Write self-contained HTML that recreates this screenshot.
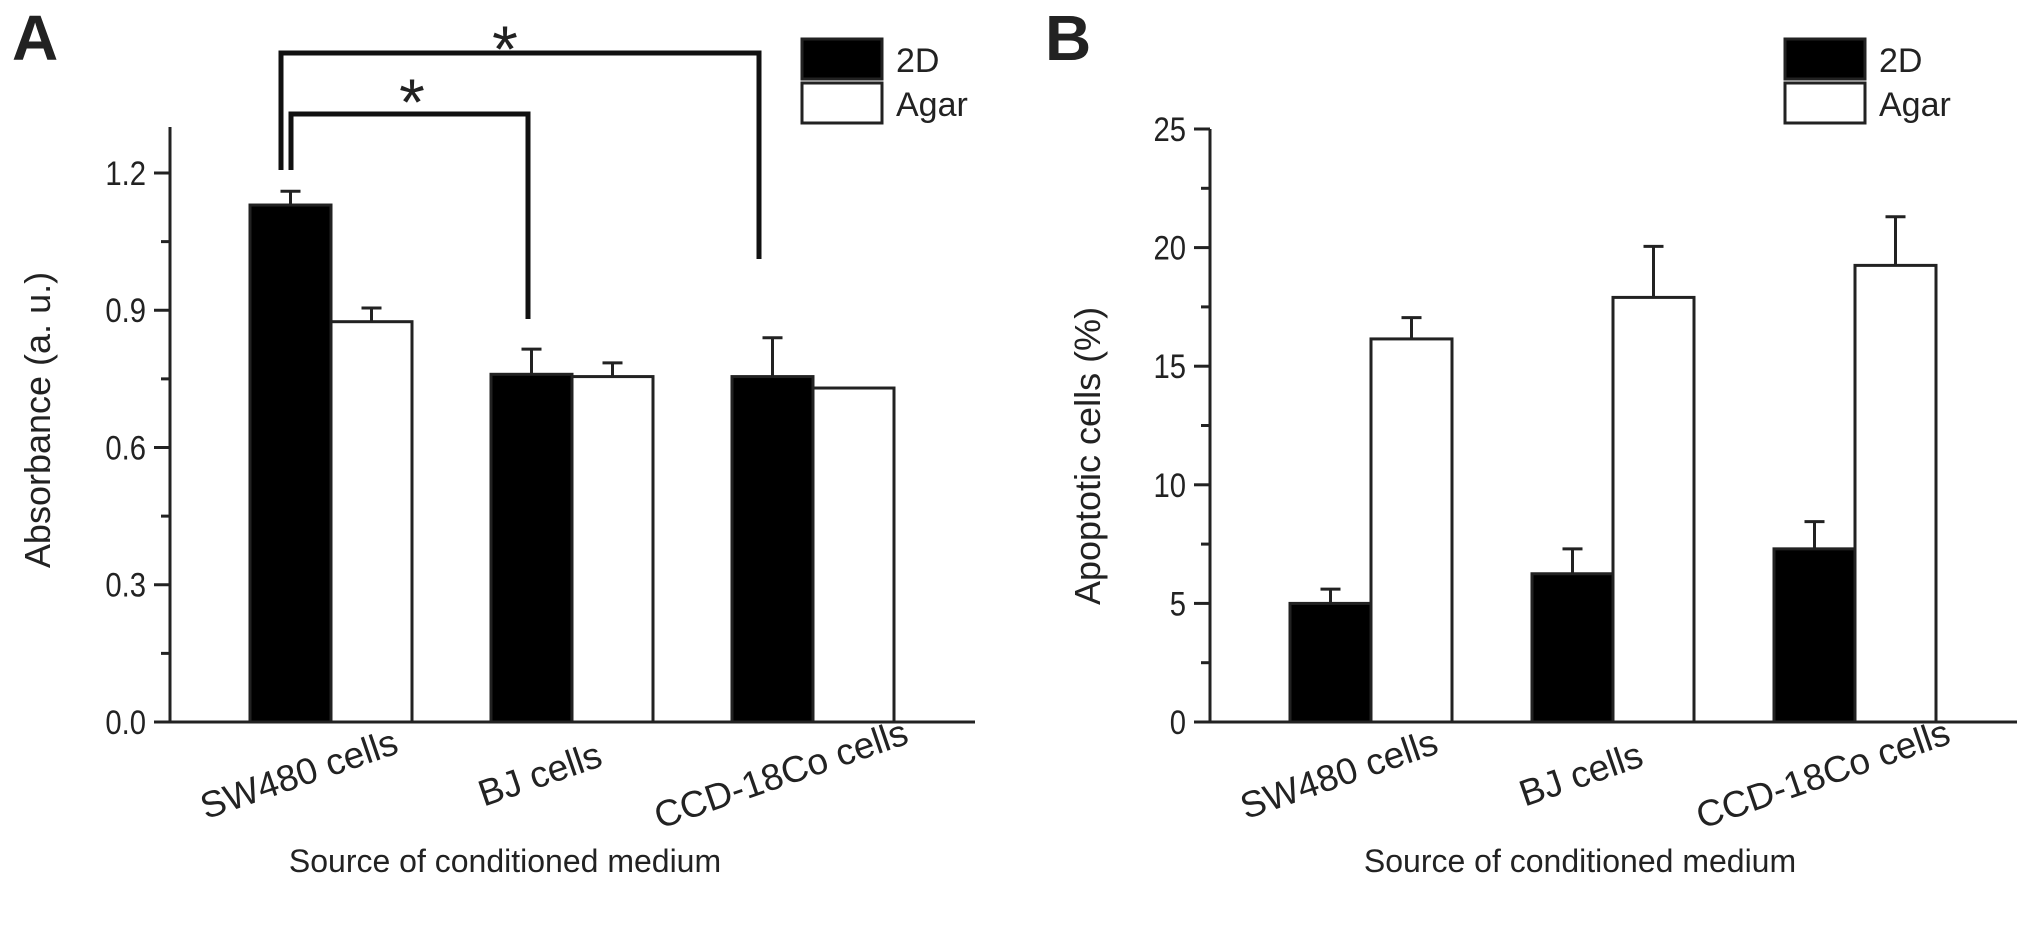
<!DOCTYPE html>
<html><head><meta charset="utf-8"><style>
html,body{margin:0;padding:0;background:#fff;}
svg{display:block;}
text{font-family:"Liberation Sans",Arial,sans-serif;fill:#222;}
</style></head><body>
<svg id="fig" width="2031" height="928" viewBox="0 0 2031 928" xmlns="http://www.w3.org/2000/svg">
<g id="pa"></g>
<g id="pb"></g>
</svg>
<script>
const categories = ["SW480 cells", "BJ cells", "CCD-18Co cells"];
const seriesNames = ["2D", "Agar"];
const absorb2D = [1.13, 0.76, 0.755];
const absorb2DErr = [0.03, 0.055, 0.085];
const absorbAgar = [0.875, 0.755, 0.73];
const absorbAgarErr = [0.03, 0.03, 0];
const absorbTicks = ["0.0", "0.3", "0.6", "0.9", "1.2"];
const apop2D = [5.0, 6.25, 7.3];
const apop2DErr = [0.6, 1.05, 1.15];
const apopAgar = [16.15, 17.9, 19.25];
const apopAgarErr = [0.9, 2.15, 2.05];
const apopTicks = ["0", "5", "10", "15", "20", "25"];

const NS = "http://www.w3.org/2000/svg";
function mk(parent, tag, attrs, txt){
  const e = document.createElementNS(NS, tag);
  for (const k in attrs) e.setAttribute(k, attrs[k]);
  if (txt !== undefined) e.textContent = txt;
  parent.appendChild(e); return e;
}

function panel(g, cfg){
  const y = v => cfg.y0 - (v - cfg.vmin) / (cfg.vmax - cfg.vmin) * (cfg.y0 - cfg.yTop);
  const groupCenter = i => cfg.c0 + i * cfg.gap;
  const bw = cfg.bw;
  const ax = mk(g, "path", {d:`M${cfg.ax},${cfg.axTop} V${cfg.y0} H${cfg.axEnd}`, fill:"none", stroke:"#222", "stroke-width":3});
  
  
  const n = cfg.ticks.length;
  for (let i = 0; i < n; i++){
    const v = cfg.vmin + i * (cfg.vmax - cfg.vmin) / (n - 1);
    const tk = mk(g, "line", {x1:cfg.ax-16, x2:cfg.ax, y1:y(v), y2:y(v), stroke:"#222", "stroke-width":3});
    
    
    const tl = mk(g, "text", {x:cfg.ax-24, y:y(v)+12, "text-anchor":"end", "font-size":34, transform:`translate(${cfg.ax-24},0) scale(0.86,1) translate(${-(cfg.ax-24)},0)`}, cfg.ticks[i]);
    
    
    if (i < n - 1){
      const mv = v + (cfg.vmax - cfg.vmin) / (n - 1) / 2;
      const mt = mk(g, "line", {x1:cfg.ax-9, x2:cfg.ax, y1:y(mv), y2:y(mv), stroke:"#222", "stroke-width":3});
      
      
    }
  }
  const series = [[cfg.s1, cfg.e1, "#000"], [cfg.s2, cfg.e2, "#fff"]];
  series.forEach((s, si) => {
    s[0].forEach((v, i) => {
      const x = groupCenter(i) + (si === 0 ? -bw : 0);
      const r = mk(g, "rect", {x:x, y:y(v), width:bw, height:y(cfg.vmin)-y(v), fill:s[2], stroke:"#222", "stroke-width":3});
      
      
      if (s[1][i] > 0){
        const cx = x + bw/2, yt = y(v + s[1][i]);
        const eb = mk(g, "path", {d:`M${cx},${y(v)} V${yt} M${cx-10},${yt} H${cx+10}`, stroke:"#222", "stroke-width":3, fill:"none"});
        
        
      }
    });
  });
  categories.forEach((c, i) => {
    const lx = groupCenter(i) - 28, ly = cfg.y0 + 64;
    const t = mk(g, "text", {x:lx, y:ly, "text-anchor":"middle", "font-size":37, transform:`rotate(-19 ${lx} ${ly})`}, c);
    
    
  });
  const xt = mk(g, "text", {x:cfg.xTitleX, y:872, "text-anchor":"middle", "font-size":32}, "Source of conditioned medium");
  
  
  const yt = mk(g, "text", {x:0, y:0, "text-anchor":"middle", "font-size":36, transform:`translate(${cfg.yTitleX},${cfg.yTitleY}) rotate(-90)`}, cfg.yTitle);
  
  
  const pl = mk(g, "text", {x:cfg.letterX, y:60, "font-size":64, "font-weight":"bold", fill:"#000"}, cfg.letter);
  
  
  const lg = mk(g, "g", {});
  
  
  seriesNames.forEach((nm, i) => {
    const by = 39 + i * 44;
    const b = mk(lg, "rect", {x:cfg.legX, y:by, width:80, height:40, fill:i===0?"#000":"#fff", stroke:"#222", "stroke-width":3});
    
    
    const lt = mk(lg, "text", {x:cfg.legX+94, y:by+33, "font-size":34}, nm);
    
    
  });
  return y;
}

panel(document.getElementById("pa"), {
  ax:170, axTop:127, y0:722, yTop:173, axEnd:975, vmin:0, vmax:1.2, ticks:absorbTicks,
  c0:331, gap:241, bw:81, s1:absorb2D, e1:absorb2DErr, s2:absorbAgar, e2:absorbAgarErr,
  xTitleX:505, yTitle:"Absorbance (a. u.)", yTitleX:50, yTitleY:420, letter:"A", letterX:12, legX:802
});
panel(document.getElementById("pb"), {
  ax:1210, axTop:129, y0:722, yTop:129, axEnd:2017, vmin:0, vmax:25, ticks:apopTicks,
  c0:1371, gap:242, bw:81, s1:apop2D, e1:apop2DErr, s2:apopAgar, e2:apopAgarErr,
  xTitleX:1580, yTitle:"Apoptotic cells (%)", yTitleX:1100, yTitleY:456, letter:"B", letterX:1045, legX:1785
});

const pa = document.getElementById("pa");
const br1 = mk(pa, "path", {d:"M281,170 V53 H759 V259", fill:"none", stroke:"#111", "stroke-width":5});


const br2 = mk(pa, "path", {d:"M291,170 V114 H528 V319", fill:"none", stroke:"#111", "stroke-width":5});


const s1 = mk(pa, "text", {x:505, y:72, "text-anchor":"middle", "font-size":66}, "*");


const s2 = mk(pa, "text", {x:412, y:125, "text-anchor":"middle", "font-size":66}, "*");


</script>
</body></html>
